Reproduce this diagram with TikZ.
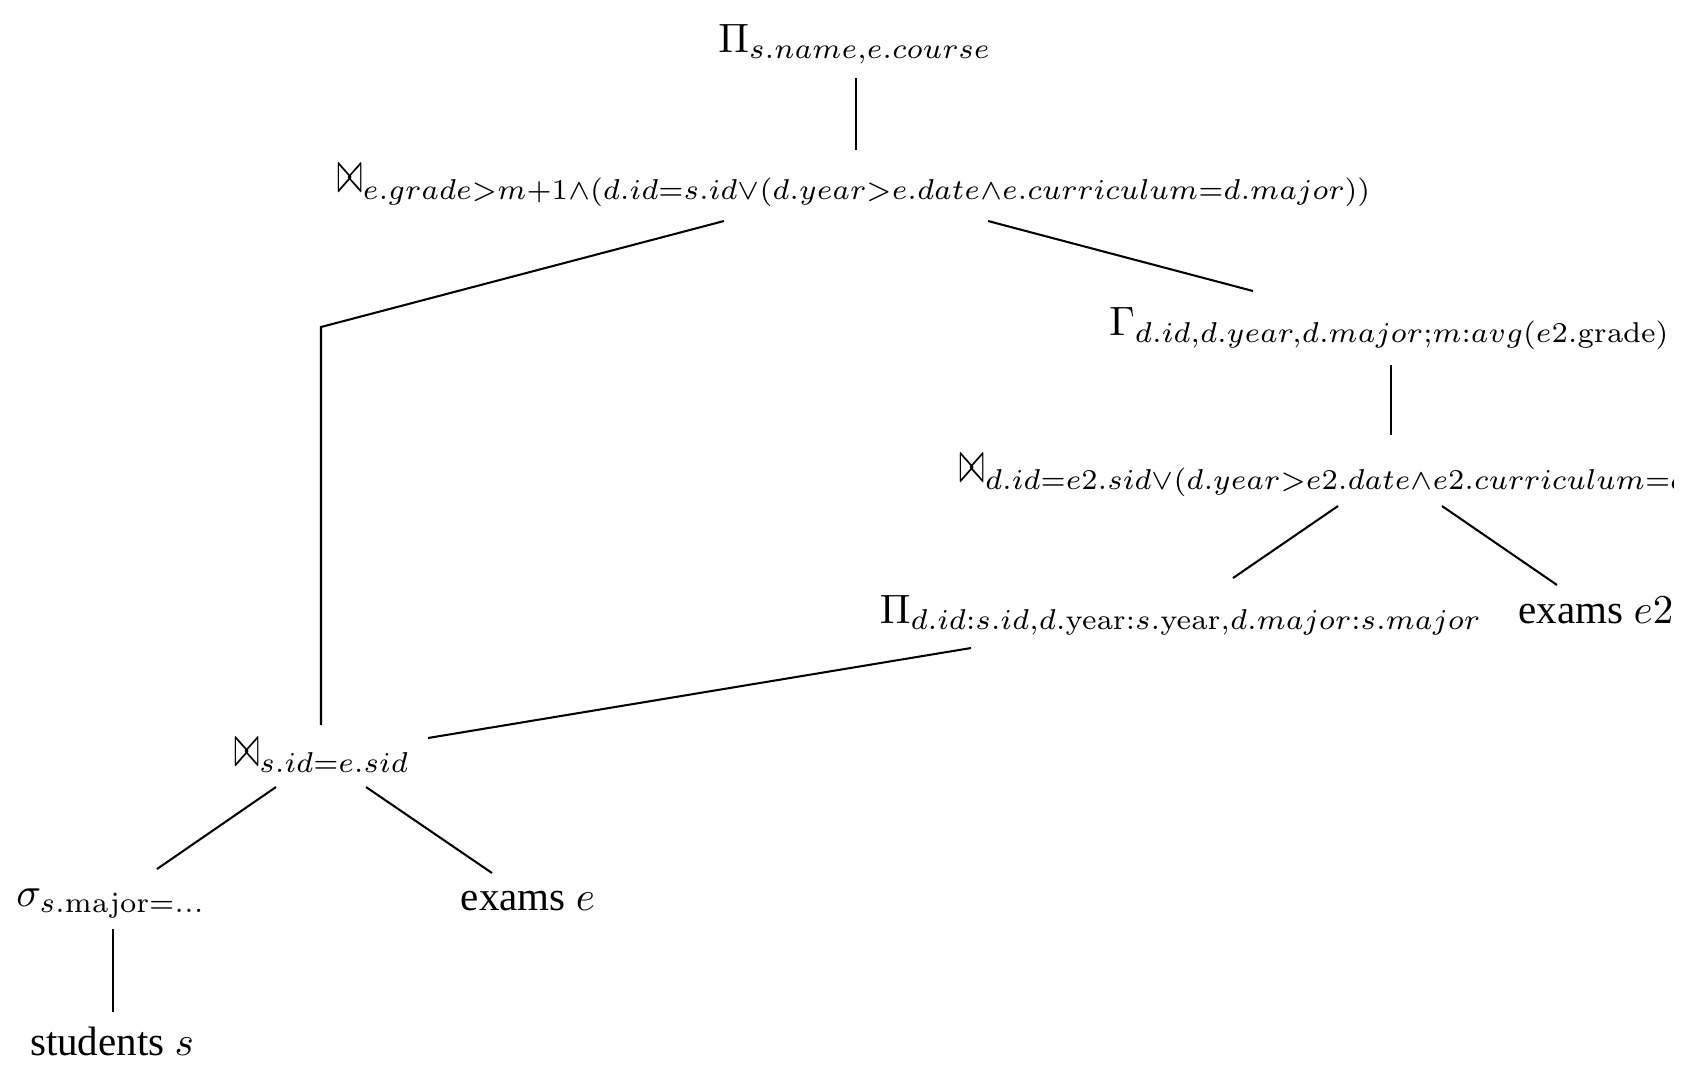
\documentclass[tikz,border=0pt]{standalone}
\usepackage[no-math]{fontspec}
\setmainfont{Liberation Serif}
\usepackage{tikz}
\usetikzlibrary{calc}
\newcommand{\myjoin}{\mathrel{\scalebox{0.74}[1.45]{$\bowtie$}}}

\begin{document}
\begin{tikzpicture}[
  x=0.2439pt,
  y=-0.2439pt,
  myop/.style={
    inner sep=0pt,
    anchor=base
    },
  myedge/.style={
    line width=0.5pt
    }
]
\useasboundingbox (0,0) rectangle (1706,1078);
\clip (0,0) rectangle (1673,1078);

\node[myop] (proj) at (855,52) {$\Pi_{s.name,e.course}$};
\node[myop] (join) at (855,192)
  {$\myjoin_{e.grade>m+1\wedge(d.id=s.id\vee(d.year>e.date\wedge e.curriculum=d.major))}$};
\node[myop] (group) at (1390,335)
  {$\Gamma_{d.id,d.year,d.major;m:avg(e2.\mathrm{grade})}$};
\node[myop, anchor=base west] (joinb) at (959,482)
  {$\myjoin_{d.id=e2.sid\vee(d.year>e2.date\wedge e2.curriculum=d.major)}$};
\node[myop] (projb) at (1181,623)
  {$\Pi_{d.id:s.id,d.\mathrm{year}:s.\mathrm{year},d.major:s.major}$};
\node[myop] (examsb) at (1596,623) {exams $e2$};
\node[myop] (joinc) at (322,766) {$\myjoin_{s.id=e.sid}$};
\node[myop] (sel) at (111,906) {$\sigma_{s.\mathrm{major}=\ldots}$};
\node[myop] (exams) at (528,910) {exams $e$};
\node[myop] (stud) at (112,1055) {students $s$};

\draw[myedge] ($(proj.base)+(1,26)$) -- ($(join.base)+(1,-42)$);
\draw[myedge] ($(join.base)+(-131,29)$) -- ($(joinc.base)+(-1,-439)$) -- ($(joinc.base)+(-1,-41)$);
\draw[myedge] ($(join.base)+(133,29)$) -- ($(group.base)+(-137,-44)$);
\draw[myedge] ($(group.base)+(1,30)$) -- ($(joinb.base west)+(432,-47)$);
\draw[myedge] ($(joinb.base west)+(379,24)$) -- ($(projb.base)+(52,-45)$);
\draw[myedge] ($(joinb.base west)+(483,24)$) -- ($(examsb.base)+(-39,-38)$);
\draw[myedge] ($(projb.base)+(-210,25)$) -- ($(joinc.base)+(106,-28)$);
\draw[myedge] ($(joinc.base)+(-46,21)$) -- ($(sel.base)+(46,-37)$);
\draw[myedge] ($(joinc.base)+(44,21)$) -- ($(exams.base)+(-36,-37)$);
\draw[myedge] ($(sel.base)+(2,23)$) -- ($(stud.base)+(1,-43)$);
\end{tikzpicture}
\end{document}
